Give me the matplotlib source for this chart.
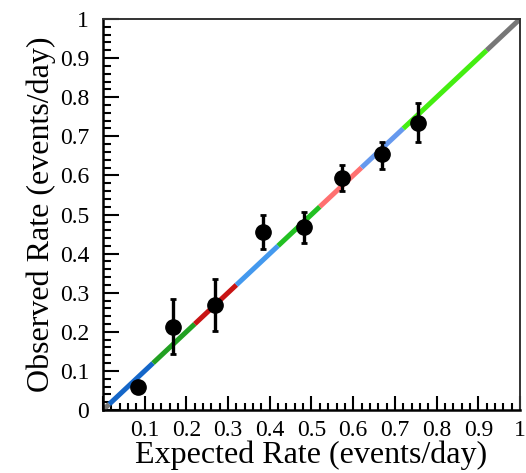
import numpy as np
import matplotlib.pyplot as plt
from matplotlib.ticker import MultipleLocator, FixedLocator, FixedFormatter

# data
expected = [0.083, 0.169, 0.269, 0.383, 0.482, 0.572, 0.670, 0.755]
observed = [0.058, 0.213, 0.268, 0.454, 0.469, 0.594, 0.654, 0.735]
err_lo = [0.015, 0.070, 0.066, 0.043, 0.041, 0.033, 0.038, 0.050]
err_hi = [0.015, 0.071, 0.067, 0.045, 0.037, 0.033, 0.032, 0.049]

# coloured pieces of the y = x line
seg_edges = [0.0, 0.015, 0.12, 0.22, 0.32, 0.42, 0.52, 0.62, 0.72, 0.92, 1.0]
seg_colors = ['#777777', '#1466c8', '#22a022', '#c81414', '#4499ee',
              '#22c022', '#ff7070', '#6699ee', '#44ee11', '#777777']

tick_vals = [0.0, 0.1, 0.2, 0.3, 0.4, 0.5, 0.6, 0.7, 0.8, 0.9, 1.0]
x_labels = ['', '0.1', '0.2', '0.3', '0.4', '0.5', '0.6', '0.7', '0.8', '0.9', '1']
y_labels = ['0', '0.1', '0.2', '0.3', '0.4', '0.5', '0.6', '0.7', '0.8', '0.9', '1']

plt.rcParams['font.family'] = ['Liberation Serif', 'DejaVu Serif']

fig = plt.figure(figsize=(5.26, 4.73), dpi=100)
ax = fig.add_axes([0.1958, 0.1332, 0.7928, 0.8266])

for i in range(len(seg_colors)):
    a, b = seg_edges[i], seg_edges[i + 1]
    ax.plot([a, b], [a, b], color=seg_colors[i], lw=3.6,
            solid_capstyle='butt', zorder=2)

ax.errorbar(expected, observed, yerr=[err_lo, err_hi], fmt='o', color='black',
            ms=11, elinewidth=2.4, capsize=2.0, capthick=2.0, zorder=3)

ax.set_xlim(0, 1)
ax.set_ylim(0, 1)

ax.xaxis.set_major_locator(FixedLocator(tick_vals))
ax.xaxis.set_major_formatter(FixedFormatter(x_labels))
ax.yaxis.set_major_locator(FixedLocator(tick_vals))
ax.yaxis.set_major_formatter(FixedFormatter(y_labels))
ax.xaxis.set_minor_locator(MultipleLocator(0.02))
ax.yaxis.set_minor_locator(MultipleLocator(0.02))

ax.tick_params(which='both', direction='in', top=False, right=False,
               width=1.5, labelsize=17, colors='black')
ax.tick_params(axis='x', which='major', length=10, pad=7)
ax.tick_params(axis='x', which='minor', length=5)
ax.tick_params(axis='y', which='major', length=11.5, pad=10)
ax.tick_params(axis='y', which='minor', length=5.5)

for s in ['left', 'bottom']:
    ax.spines[s].set_linewidth(1.8)
for s in ['top', 'right']:
    ax.spines[s].set_linewidth(1.4)
    ax.spines[s].set_color('#333333')

ax.set_xlabel('Expected Rate (events/day)', fontsize=23, labelpad=0)
ax.set_ylabel('Observed Rate (events/day)', fontsize=23, labelpad=3)

fig.savefig('out.png', dpi=100)
